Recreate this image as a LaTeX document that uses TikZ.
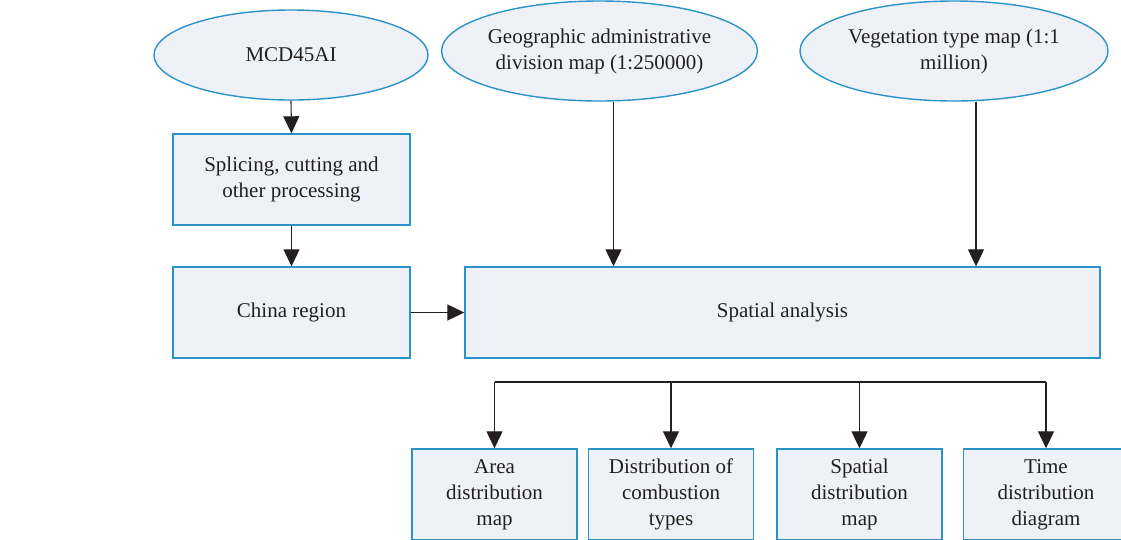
\documentclass[tikz,border=0pt]{standalone}
\usepackage{fontspec}
\setmainfont{Liberation Serif}
\usepackage{xcolor}
\usetikzlibrary{shapes.geometric, arrows.meta}
\definecolor{boxfill}{HTML}{EEF2F8}
\definecolor{boxline}{HTML}{2B93C8}
\definecolor{ink}{HTML}{231F20}

\begin{document}
\begin{tikzpicture}[x=1pt,y=-1pt,
  box/.style={draw=boxline,fill=boxfill,line width=1.4pt,text=ink,align=center,inner sep=0pt,font=\fontsize{21}{26}\selectfont},
  oval/.style={box,ellipse},
  arr/.style={draw=ink,line width=1.1pt,-{Triangle[width=16pt,length=17pt]}}]
\useasboundingbox (0,0) rectangle (1121,539);
\clip (0,0) rectangle (1121,539);

\node[oval,minimum width=274pt,minimum height=90pt] (mcd) at (291,55) {MCD45AI};
\node[oval,minimum width=311pt,minimum height=100pt] (geo) at (599.5,51) {Geographic administrative\\division map (1:250000)};
\node[oval,minimum width=308pt,minimum height=100pt] (veg) at (954,51) {Vegetation type map (1:1\\million)};

\node[box,minimum width=237pt,minimum height=91pt] (splice) at (291.5,179.5) {Splicing, cutting and\\other processing};
\node[box,minimum width=237pt,minimum height=91pt] (china) at (291.5,312.5) {China region};
\node[box,minimum width=635pt,minimum height=91pt] (spa) at (782.5,312.5) {Spatial analysis};

\node[box,minimum width=165pt,minimum height=91pt] (area) at (494.5,494.5) {Area\\distribution\\map};
\node[box,minimum width=165pt,minimum height=91pt] (dist) at (671,494.5) {Distribution of\\combustion\\types};
\node[box,minimum width=165pt,minimum height=91pt] (spat) at (859.5,494.5) {Spatial\\distribution\\map};
\node[box,minimum width=165pt,minimum height=91pt] (time) at (1046,494.5) {Time\\distribution\\diagram};

\draw[arr] (mcd.south) -- (splice.north);
\draw[arr] (splice) -- (china);
\draw[arr] (china) -- (spa);
\draw[arr] ([xshift=14pt]geo.south) -- ([xshift=14pt]geo.south |- spa.north);
\draw[arr] ([xshift=22pt]veg.south) -- ([xshift=22pt]veg.south |- spa.north);

\coordinate (bus) at (0,382);
\draw[ink,line width=1.1pt] (area.north |- bus) -- (time.north |- bus);
\foreach \n in {area,dist,spat,time}
  \draw[arr] (\n.north |- bus) -- (\n.north);
\end{tikzpicture}
\end{document}
